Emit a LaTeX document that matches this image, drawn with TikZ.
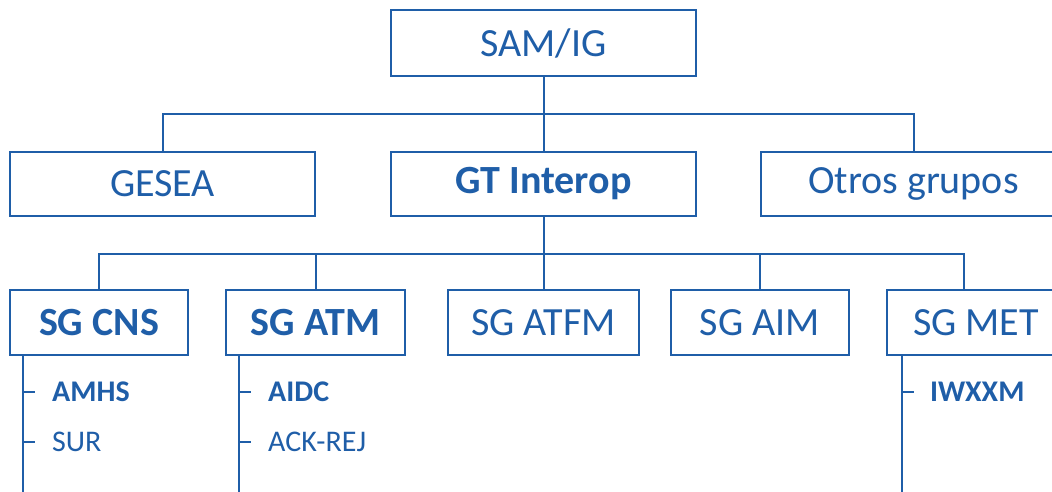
\documentclass[tikz,border=0pt]{standalone}
\usepackage{fontspec}
\setmainfont{Carlito}
\definecolor{oaciblue}{RGB}{31,94,168}
\tikzset{
  box/.style={draw=oaciblue, line width=2.2pt, fill=white, inner sep=0pt, text=oaciblue, font=\fontsize{40}{44}\selectfont},
  boldbox/.style={box, font=\fontsize{40}{44}\selectfont\bfseries},
  conn/.style={draw=oaciblue, line width=2pt},
  item/.style={anchor=west, inner sep=0pt, text=oaciblue, font=\fontsize{30}{34}\selectfont},
  bolditem/.style={item, font=\fontsize{30}{34}\selectfont\bfseries}
}
\begin{document}
\begin{tikzpicture}[x=1pt,y=-1pt]
\useasboundingbox (0,0) rectangle (1052,491);
\begin{scope}
\clip (0,0) rectangle (1052,491);
% level 1
\node[box, minimum width=305pt, minimum height=66pt] (sam) at (543.5,43) {SAM/IG};
% level 2
\node[box, minimum width=305pt, minimum height=64pt] (gesea) at (162.5,184) {GESEA};
\node[boldbox, minimum width=305pt, minimum height=64pt] (gt) at (543.5,184) {GT Interop};
\node[box, minimum width=305pt, minimum height=64pt] (otros) at (913.5,184) {Otros grupos};
% level 3
\node[boldbox, minimum width=178pt, minimum height=65pt] (cns) at (99,322.5) {SG CNS};
\node[boldbox, minimum width=179pt, minimum height=65pt] (atm) at (315.5,322.5) {SG ATM};
\node[box, minimum width=191pt, minimum height=65pt] (atfm) at (543.5,322.5) {SG ATFM};
\node[box, minimum width=178pt, minimum height=65pt] (aim) at (760,322.5) {SG AIM};
\node[box, minimum width=178pt, minimum height=65pt] (met) at (976,322.5) {SG MET};
% buses
\coordinate (bus1) at (543.5,114);
\coordinate (bus2) at (543.5,254);
\coordinate (mettop) at (964,290);
\draw[conn] (sam.south) -- (gt.north);
\draw[conn] (gesea.north) |- (bus1) -| (otros.north);
\draw[conn] (gt.south) -- (atfm.north);
\draw[conn] (cns.north) |- (bus2) -| (mettop);
\draw[conn] (atm.north) -- (atm.north |- bus2);
\draw[conn] (aim.north) -- (aim.north |- bus2);
% sub items
\node[bolditem] (amhs) at (52,392) {AMHS};
\node[item] (sur) at (52,442) {SUR};
\node[bolditem] (aidc) at (268,392) {AIDC};
\node[item] (ackrej) at (268,442) {ACK-REJ};
\node[bolditem] (iwxxm) at (930,392) {IWXXM};
\coordinate (cnsv) at (23,356);
\coordinate (cnsend) at (23,495);
\coordinate (atmv) at (239,356);
\coordinate (atmend) at (239,495);
\coordinate (metv) at (902,356);
\coordinate (metend) at (902,495);
\draw[conn] (cnsv) -- (cnsend);
\draw[conn] (atmv) -- (atmend);
\draw[conn] (metv) -- (metend);
\draw[conn] (cnsv |- amhs.west) -- ++(12,0);
\draw[conn] (cnsv |- sur.west) -- ++(12,0);
\draw[conn] (atmv |- aidc.west) -- ++(12,0);
\draw[conn] (atmv |- ackrej.west) -- ++(12,0);
\draw[conn] (metv |- iwxxm.west) -- ++(12,0);
\end{scope}
\end{tikzpicture}
\end{document}
